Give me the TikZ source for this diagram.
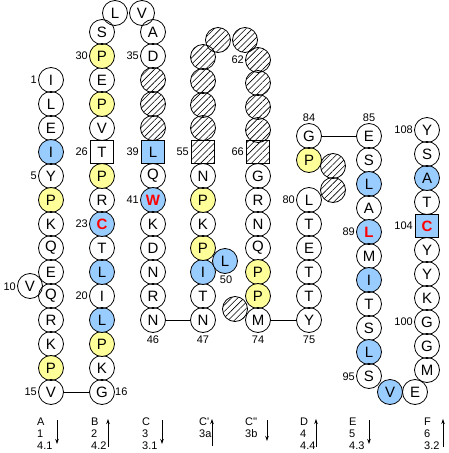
\documentclass[tikz,border=0pt]{standalone}
\usepackage{fontspec}
\setmainfont{Liberation Sans}
\usetikzlibrary{patterns.meta,arrows.meta}

\definecolor{proyel}{HTML}{FFFF99}
\definecolor{hydblue}{HTML}{99CCFF}

\tikzset{
	res/.style={circle,draw,line width=0.8pt,minimum size=25pt,inner sep=0pt,font=\fontsize{15}{15}\selectfont},
	pro/.style={res,fill=proyel},
	hyd/.style={res,fill=hydblue},
	hatched/.style={res,pattern={Lines[angle=45,distance=4.5pt,line width=0.6pt]}},
	box/.style={res,rectangle,minimum size=23.5pt},
	num/.style={font=\fontsize{11}{11}\selectfont,inner sep=1pt},
	key/.style={font=\fontsize{11}{12}\selectfont,align=left,anchor=north west,inner sep=0pt},
	keyarr/.style={-{Stealth[length=5pt,width=3.5pt]},line width=0.8pt}
}
\newcommand{\hot}[1]{\textcolor{red}{\textbf{#1}}}

\begin{document}
\begin{tikzpicture}[x=1pt,y=-1pt]
			%%%%% START %%%%%
			\useasboundingbox (0,0) rectangle (448,453);
			
			% strand A
			\node[res] (r1) at (51,80) {I};
			\node[res] (r2) at (51,104) {L};
			\node[res] (r3) at (51,128) {E};
			\node[hyd] (r4) at (51,152) {I};
			\node[res] (r5) at (51,176) {Y};
			\node[pro] (r6) at (51,200) {P};
			\node[res] (r7) at (51,224) {K};
			\node[res] (r8) at (51,248) {Q};
			\node[res] (r9) at (51,272) {E};
			\node[res] (r10) at (30,286) {V};
			\node[res] (r11) at (51,296) {Q};
			\node[res] (r12) at (51,320) {R};
			\node[res] (r13) at (51,344) {K};
			\node[pro] (r14) at (51,368) {P};
			\node[res] (r15) at (51,392) {V};
			
			% strand B
			\node[res] (r16) at (102,392) {G};
			\node[res] (r17) at (102,368) {K};
			\node[pro] (r18) at (102,344) {P};
			\node[hyd] (r19) at (102,320) {L};
			\node[res] (r20) at (102,296) {I};
			\node[hyd] (r21) at (102,272) {L};
			\node[res] (r22) at (102,248) {T};
			\node[hyd] (r23) at (102,224) {\hot{C}};
			\node[res] (r24) at (102,200) {R};
			\node[pro] (r25) at (102,176) {P};
			\node[box] (r26) at (102,152) {T};
			\node[res] (r27) at (102,128) {V};
			\node[pro] (r28) at (102,104) {P};
			\node[res] (r29) at (102,80) {E};
			\node[pro] (r30) at (102,56) {P};
			\node[res] (r31) at (102,32) {S};
			\node[res] (r32) at (115,13) {L};
			\node[res] (r33) at (142,13) {V};
			
			% strand C
			\node[res] (r34) at (153,32) {A};
			\node[res] (r35) at (153,56) {D};
			\node[hatched] (r36) at (153,80) {};
			\node[hatched] (r37) at (153,104) {};
			\node[hatched] (r38) at (153,128) {};
			\node[hyd,box] (r39) at (153,152) {L};
			\node[res] (r40) at (153,176) {Q};
			\node[hyd] (r41) at (153,200) {\hot{W}};
			\node[res] (r42) at (153,224) {K};
			\node[res] (r43) at (153,248) {D};
			\node[res] (r44) at (153,272) {N};
			\node[res] (r45) at (153,296) {R};
			\node[res] (r46) at (153,320) {N};
			
			% strands C' and C''
			\node[res] (r47) at (203,320) {N};
			\node[res] (r48) at (203,296) {T};
			\node[hyd] (r49) at (203,272) {I};
			\node[hyd] (r50) at (225,261) {L};
			\node[pro] (r51) at (203,248) {P};
			\node[res] (r52) at (203,224) {K};
			\node[pro] (r53) at (203,200) {P};
			\node[res] (r54) at (203,176) {N};
			\node[hatched,box] (r55) at (203,152) {};
			\node[hatched] (r56) at (203,128) {};
			\node[hatched] (r57) at (203,105) {};
			\node[hatched] (r58) at (203,81) {};
			\node[hatched] (r59) at (203,57) {};
			\node[hatched] (r60) at (218,40) {};
			\node[hatched] (r61) at (245,40) {};
			\node[hatched] (r62) at (258,60) {};
			\node[hatched] (r63) at (258,83) {};
			\node[hatched] (r64) at (258,107) {};
			\node[hatched] (r65) at (258,130) {};
			\node[hatched,box] (r66) at (258,152) {};
			\node[res] (r67) at (258,176) {G};
			\node[res] (r68) at (258,200) {R};
			\node[res] (r69) at (258,224) {N};
			\node[res] (r70) at (258,248) {Q};
			\node[pro] (r71) at (258,272) {P};
			\node[pro] (r72) at (258,296) {P};
			\node[hatched] (r73) at (235,309) {};
			\node[res] (r74) at (258,320) {M};
			
			% strand D
			\node[res] (r75) at (309,320) {Y};
			\node[res] (r76) at (309,296) {T};
			\node[res] (r77) at (309,272) {T};
			\node[res] (r78) at (309,248) {E};
			\node[res] (r79) at (309,224) {T};
			\node[res] (r80) at (309,200) {L};
			\node[hatched] (r81) at (333,190) {};
			\node[hatched] (r82) at (333,166) {};
			\node[pro] (r83) at (309,160) {P};
			\node[res] (r84) at (309,136) {G};
			
			% strand E
			\node[res] (r85) at (369,136) {E};
			\node[res] (r86) at (369,160) {S};
			\node[hyd] (r87) at (369,184) {L};
			\node[res] (r88) at (369,208) {A};
			\node[hyd] (r89) at (369,232) {\hot{L}};
			\node[res] (r90) at (369,256) {M};
			\node[hyd] (r91) at (369,280) {I};
			\node[res] (r92) at (369,304) {T};
			\node[res] (r93) at (369,328) {S};
			\node[hyd] (r94) at (369,352) {L};
			\node[res] (r95) at (369,376) {S};
			\node[hyd] (r96) at (390,392) {V};
			\node[res] (r97) at (415,392) {E};
			
			% strand F
			\node[res] (r98) at (427,370) {M};
			\node[res] (r99) at (427,346) {G};
			\node[res] (r100) at (427,322) {G};
			\node[res] (r101) at (427,298) {K};
			\node[res] (r102) at (427,274) {Y};
			\node[res] (r103) at (427,250) {Y};
			\node[hyd,box] (r104) at (427,226) {\hot{C}};
			\node[res] (r105) at (427,202) {T};
			\node[hyd] (r106) at (427,178) {A};
			\node[res] (r107) at (427,154) {S};
			\node[res] (r108) at (427,130) {Y};
			
			% turns
			\draw[line width=0.8pt] (r15) -- (r16);
			\draw[line width=0.8pt] (r46) -- (r47);
			\draw[line width=0.8pt] (r74) -- (r75);
			\draw[line width=0.8pt] (r84) -- (r85);
			
			% residue numbers
			\node[num,anchor=east] (n1) at (38,80) {1};
			\node[num,anchor=east] (n5) at (38,176) {5};
			\node[num,anchor=east] (n10) at (17,287) {10};
			\node[num,anchor=east] (n15) at (38,392) {15};
			\node[num,anchor=west] (n16) at (114,392) {16};
			\node[num,anchor=east] (n20) at (89,296) {20};
			\node[num,anchor=east] (n23) at (89,224) {23};
			\node[num,anchor=east] (n26) at (89,152) {26};
			\node[num,anchor=east] (n30) at (89,56) {30};
			\node[num,anchor=east] (n35) at (140,56) {35};
			\node[num,anchor=east] (n39) at (140,152) {39};
			\node[num,anchor=east] (n41) at (140,200) {41};
			\node[num] (n46) at (153,340) {46};
			\node[num] (n47) at (203,340) {47};
			\node[num] (n50) at (226,280) {50};
			\node[num,anchor=east] (n55) at (190,152) {55};
			\node[num,anchor=east] (n62) at (245,60) {62};
			\node[num,anchor=east] (n66) at (245,152) {66};
			\node[num] (n74) at (258,340) {74};
			\node[num] (n75) at (309,340) {75};
			\node[num,anchor=east] (n80) at (296,200) {80};
			\node[num] (n84) at (309,118) {84};
			\node[num] (n85) at (369,118) {85};
			\node[num,anchor=east] (n89) at (356,232) {89};
			\node[num,anchor=east] (n95) at (356,377) {95};
			\node[num,anchor=east] (n100) at (414,322) {100};
			\node[num,anchor=east] (n104) at (414,226) {104};
			\node[num,anchor=east] (n108) at (414,130) {108};
			
			% strand key
			\node[key] (kA) at (37,418) {A\\1\\4.1};
			\node[key] (kB) at (91,418) {B\\2\\4.2};
			\node[key] (kC) at (142,418) {C\\3\\3.1};
			\node[key] (kC1) at (199,418) {C\textquotesingle\\3a};
			\node[key] (kC2) at (245,418) {C\textquotesingle\textquotesingle\\3b};
			\node[key] (kD) at (300,418) {D\\4\\4.4};
			\node[key] (kE) at (349,418) {E\\5\\4.3};
			\node[key] (kF) at (424,418) {F\\6\\3.2};
			\draw[keyarr] (57,420) -- (57,444);
			\draw[keyarr] (108,447) -- (108,419);
			\draw[keyarr] (162,420) -- (162,444);
			\draw[keyarr] (212,446) -- (212,419);
			\draw[keyarr] (267,420) -- (267,441);
			\draw[keyarr] (316,447) -- (316,419);
			\draw[keyarr] (369,420) -- (369,444);
			\draw[keyarr] (443,447) -- (443,419);
			
			%%%%% END %%%%%
\end{tikzpicture}
\end{document}
